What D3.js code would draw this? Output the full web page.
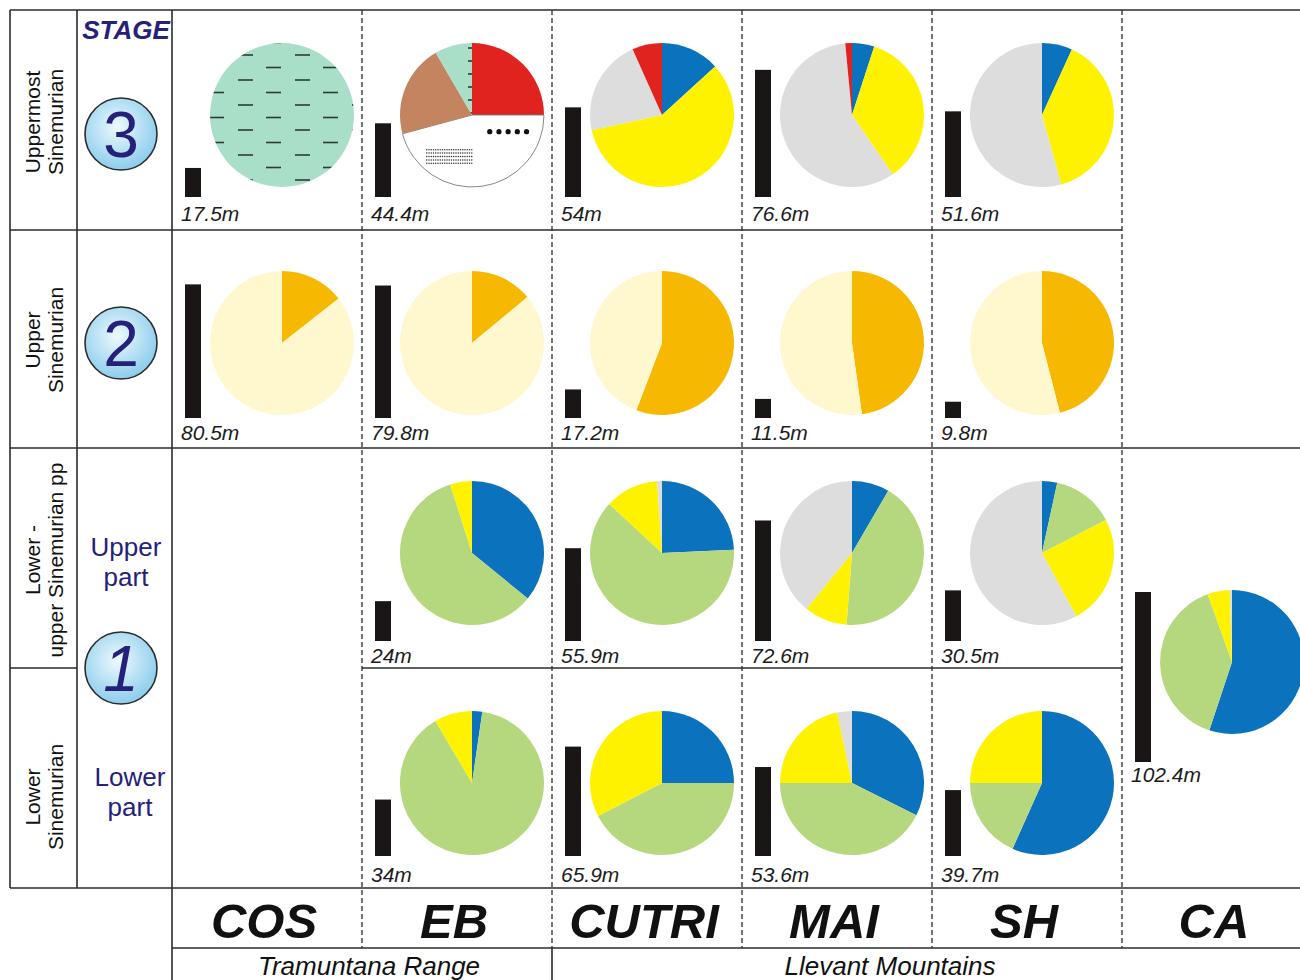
<!DOCTYPE html>
<html>
<head>
<meta charset="utf-8">
<script src="https://cdn.jsdelivr.net/npm/d3@7"></script>
<style>
  body { margin: 0; background: #fff; }
  svg { display: block; font-family: "Liberation Sans", Arial, sans-serif; }
</style>
</head>
<body>
<svg id="chart" width="1300" height="980"></svg>
<script>
// ---- sections and sites ----
const sites = ["COS", "EB", "CUTRI", "MAI", "SH", "CA"];
const regionNames = ["Tramuntana Range", "Llevant Mountains"];
const stageNumbers = ["3", "2", "1"];
const stageAges = [
  ["Uppermost", "Sinemurian"],
  ["Upper", "Sinemurian"],
  ["Lower -", "upper Sinemurian pp"],
  ["Lower", "Sinemurian"]
];
const partNames = [["Upper", "part"], ["Lower", "part"]];

// ---- section thickness (m) per stage, COS..SH ----
const thicknessStage3 = [17.5, 44.4, 54, 76.6, 51.6];
const thicknessStage2 = [80.5, 79.8, 17.2, 11.5, 9.8];
// stage 1 only from EB to SH, CA spans the whole stage
const thicknessStage1Upper = [24, 55.9, 72.6, 30.5];
const thicknessStage1Lower = [34, 65.9, 53.6, 39.7];
const thicknessCA = 102.4;

// ---- facies proportions (%) of each pie, clockwise from 12 o'clock ----
const faciesStage3 = [
  [["mudstone", 100]],
  [["red", 25], ["white", 45.8], ["brown", 20.8], ["mudstoneThin", 8.4]],
  [["blue", 13.2], ["yellow", 58.4], ["grey", 21.7], ["red", 6.7]],
  [["blue", 5], ["yellow", 35.4], ["grey", 58.1], ["red", 1.5]],
  [["blue", 6.8], ["yellow", 38.9], ["grey", 54.3]]
];
const faciesStage2 = [
  [["orange", 14.4], ["cream", 85.6]],
  [["orange", 14], ["cream", 86]],
  [["orange", 55.8], ["cream", 44.2]],
  [["orange", 47.8], ["cream", 52.2]],
  [["orange", 46], ["cream", 54]]
];
const faciesStage1Upper = [
  [["blue", 35.9], ["green", 59.2], ["yellow", 4.9]],
  [["blue", 24.3], ["green", 62.6], ["yellow", 12], ["grey", 1.1]],
  [["blue", 8.4], ["green", 42.8], ["yellow", 9.7], ["grey", 39.1]],
  [["blue", 3.4], ["green", 14], ["yellow", 24.7], ["grey", 57.9]]
];
const faciesStage1Lower = [
  [["blue", 2.3], ["green", 89.2], ["yellow", 8.5]],
  [["blue", 25], ["green", 42.4], ["yellow", 32.6]],
  [["blue", 32.4], ["green", 42.6], ["yellow", 21.7], ["grey", 3.3]],
  [["blue", 56.7], ["green", 18.3], ["yellow", 25]]
];
const faciesCA = [["blue", 55.1], ["green", 39.4], ["yellow", 5], ["grey", 0.5]];

// ---- styles ----
const fills = {
  blue: "#0b72bd", green: "#b5d77d", yellow: "#fff200", grey: "#dddddd",
  red: "#e1231f", brown: "#c4845f", white: "#ffffff",
  orange: "#f6b800", cream: "#fff8cf",
  mudstone: "url(#mud)", mudstoneThin: "url(#mudThin)"
};
const ink = "#2b2b2b";
const navy = "#25217a";

const svg = d3.select("#chart");
const defs = svg.append("defs");

// mudstone symbol: short dashes on a mint ground
function dashPattern(id, px, py, w, h, dashes) {
  const p = defs.append("pattern").attr("id", id)
    .attr("patternUnits", "userSpaceOnUse")
    .attr("x", px).attr("y", py).attr("width", w).attr("height", h);
  p.append("rect").attr("width", w).attr("height", h).attr("fill", "#a9dfc8");
  dashes.forEach(([dx, dy]) => p.append("line")
    .attr("x1", dx).attr("x2", dx + 15).attr("y1", dy).attr("y2", dy)
    .attr("stroke", "#2d3b35").attr("stroke-width", 1.6));
}
dashPattern("mud", 236, 64, 57, 25, [[5, 1], [33, 13.5]]);
dashPattern("mudThin", 450, 44, 57, 13, [[2, 6]]);

// stage badge gradient
const grad = defs.append("radialGradient").attr("id", "badge")
  .attr("cx", "45%").attr("cy", "40%").attr("r", "60%");
grad.append("stop").attr("offset", "0%").attr("stop-color", "#eef9fe");
grad.append("stop").attr("offset", "100%").attr("stop-color", "#8ccdec");

// ---- layout ----
const x = d3.scaleBand().domain(sites).range([172, 1312]);
const h = d3.scaleLinear().domain([0, 100]).range([0, 166]);
const pie = d3.pie().sort(null).value(d => d[1]);
const R = 72;
const arc = d3.arc().innerRadius(0).outerRadius(R);

const rows = [
  { top: 10,  bottom: 230, cy: 115, base: 197, label: 221 },
  { top: 230, bottom: 448, cy: 343, base: 418, label: 440 },
  { top: 448, bottom: 668, cy: 553, base: 641, label: 663 },
  { top: 668, bottom: 888, cy: 783, base: 856, label: 882 }
];

// ---- grid ----
const grid = svg.append("g").attr("stroke", ink).attr("fill", "none");
const solid = [
  [10, 10, 1300, 10], [10, 10, 10, 888], [77, 10, 77, 888], [172, 10, 172, 980],
  [10, 230, x("CA"), 230], [10, 448, 1300, 448],
  [10, 668, 77, 668], [x("EB"), 668, x("CA"), 668],
  [10, 888, 1300, 888], [172, 948, 1300, 948], [x("CUTRI"), 948, x("CUTRI"), 980]
];
grid.selectAll("line.s").data(solid).join("line").attr("class", "s")
  .attr("x1", d => d[0]).attr("y1", d => d[1]).attr("x2", d => d[2]).attr("y2", d => d[3])
  .attr("stroke-width", 1.6);
grid.selectAll("line.d").data(sites.slice(1)).join("line").attr("class", "d")
  .attr("x1", d => x(d)).attr("x2", d => x(d)).attr("y1", 10).attr("y2", 948)
  .attr("stroke-width", 1.3).attr("stroke-dasharray", "5,3");

// ---- one section cell: thickness bar, label and facies pie ----
function cell(site, row, thickness, facies, opt = {}) {
  const g = svg.append("g");
  const left = x(site);
  const base = opt.base ?? row.base;
  g.append("rect")
    .attr("x", left + 13).attr("width", 16)
    .attr("y", base - h(thickness)).attr("height", h(thickness))
    .attr("fill", "#1b1616");
  g.append("text")
    .attr("x", left + 9).attr("y", opt.label ?? row.label)
    .attr("font-size", 21).attr("font-style", "italic").attr("fill", "#1c1c1c")
    .text(`${thickness}m`);
  const cx = left + 110, cy = opt.cy ?? row.cy;
  const pg = g.append("g").attr("transform", `translate(${cx},${cy})`);
  const arcs = pie(facies);
  pg.selectAll("path").data(arcs).join("path")
    .attr("d", arc)
    .attr("fill", d => fills[d.data[0]])
    .attr("stroke", d => d.data[0] === "white" ? "#7a7a7a" : "none")
    .attr("stroke-width", 0.9);
  // sandstone / siltstone symbols inside the white slice
  arcs.filter(d => d.data[0] === "white").forEach(d => {
    const [mx, my] = arc.centroid(d);
    pg.selectAll("circle.pebble").data(d3.range(5)).join("circle").attr("class", "pebble")
      .attr("cx", i => mx + 13 + i * 9.2).attr("cy", my - 19).attr("r", 2.6).attr("fill", "#111");
    const silt = pg.append("g").attr("fill", "#333");
    d3.range(5).forEach(j => {
      d3.range(21).forEach(k => {
        silt.append("circle").attr("cx", mx - 50 + k * 2.25).attr("cy", my - 1 + j * 3.4).attr("r", 0.75);
      });
    });
  });
}

sites.slice(0, 5).forEach((s, i) => cell(s, rows[0], thicknessStage3[i], faciesStage3[i]));
sites.slice(0, 5).forEach((s, i) => cell(s, rows[1], thicknessStage2[i], faciesStage2[i]));
sites.slice(1, 5).forEach((s, i) => cell(s, rows[2], thicknessStage1Upper[i], faciesStage1Upper[i]));
sites.slice(1, 5).forEach((s, i) => cell(s, rows[3], thicknessStage1Lower[i], faciesStage1Lower[i]));
cell("CA", rows[2], thicknessCA, faciesCA, { cy: 662, base: 762, label: 782 });

// ---- stage column ----
svg.append("text").attr("x", 126).attr("y", 39).attr("text-anchor", "middle")
  .attr("font-size", 26).attr("font-weight", "bold").attr("font-style", "italic")
  .attr("fill", navy).text("STAGE");

const badgeY = [134, 343, 668];
stageNumbers.forEach((n, i) => {
  svg.append("circle").attr("cx", 121).attr("cy", badgeY[i]).attr("r", 36)
    .attr("fill", "url(#badge)").attr("stroke", ink).attr("stroke-width", 1.6);
  svg.append("text").attr("x", 121).attr("y", badgeY[i] + 23).attr("text-anchor", "middle")
    .attr("font-size", 64).attr("font-style", n === "1" ? "italic" : "normal")
    .attr("fill", navy).text(n);
});

const partY = [[556, 586], [786, 816]];
const partX = [126, 130];
partNames.forEach((lines, i) => lines.forEach((t, j) =>
  svg.append("text").attr("x", partX[i]).attr("y", partY[i][j]).attr("text-anchor", "middle")
    .attr("font-size", 26).attr("fill", navy).text(t)));

// ---- age column (rotated) ----
const ageCentre = [122, 340, 560, 797];
stageAges.forEach((lines, i) => lines.forEach((t, j) =>
  svg.append("text")
    .attr("transform", `translate(${j ? 63 : 40},${ageCentre[i]}) rotate(-90)`)
    .attr("text-anchor", "middle").attr("font-size", 21).attr("fill", "#111").text(t)));

// ---- section names and ranges ----
svg.selectAll("text.site").data(sites).join("text").attr("class", "site")
  .attr("x", d => x(d) + x.bandwidth() / 2 - 3).attr("y", 938).attr("text-anchor", "middle")
  .attr("font-size", 49).attr("font-weight", "bold").attr("font-style", "italic")
  .attr("fill", "#111").text(d => d);

const regionX = [369, 890];
regionNames.forEach((r, i) => svg.append("text")
  .attr("x", regionX[i]).attr("y", 975).attr("text-anchor", "middle")
  .attr("font-size", 26).attr("font-style", "italic").attr("fill", "#111").text(r));
</script>
</body>
</html>
